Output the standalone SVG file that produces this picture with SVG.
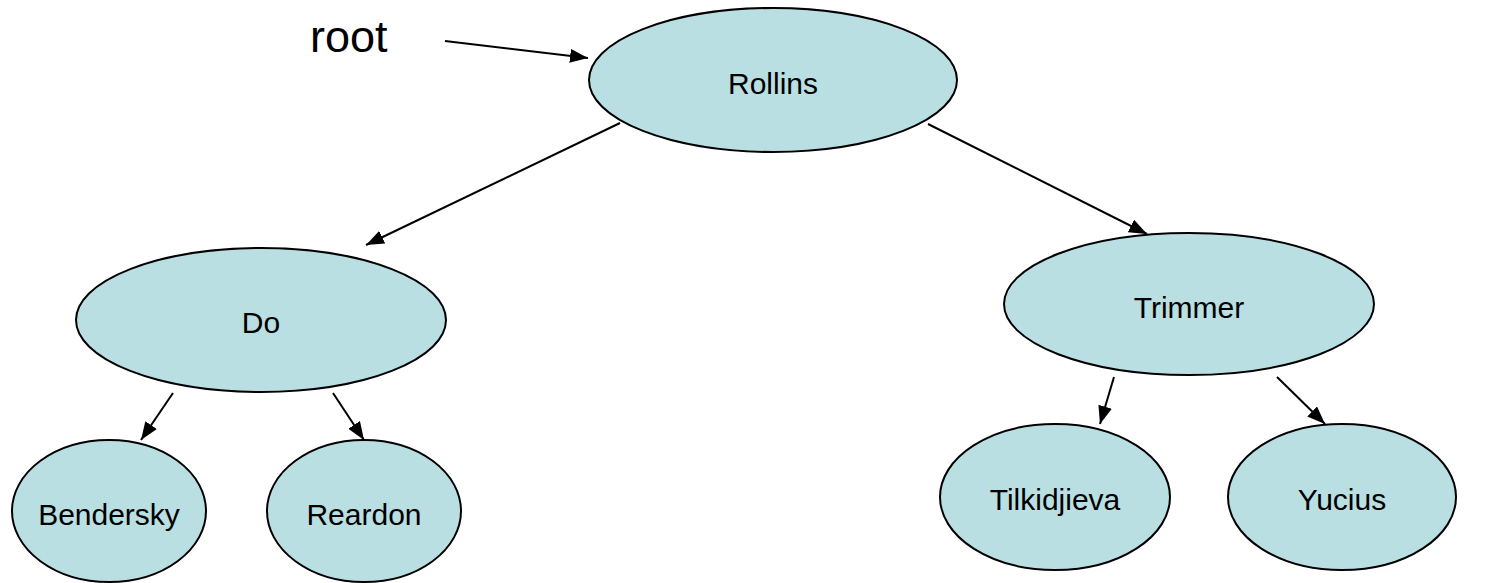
<svg xmlns="http://www.w3.org/2000/svg" width="1485" height="583" viewBox="0 0 1485 583">
  <style>
    .node ellipse { fill: #b9dfe3; stroke: #000; stroke-width: 2; }
    .node text { font-family: "Liberation Sans", Arial, sans-serif; font-size: 30px; fill: #000; text-anchor: middle; }
    .edge { stroke: #000; stroke-width: 2; fill: none; marker-end: url(#arrow); }
    .label { font-family: "Liberation Sans", Arial, sans-serif; font-size: 45px; fill: #000; }
  </style>
  <defs>
    <marker id="arrow" markerUnits="userSpaceOnUse" markerWidth="18" markerHeight="14" viewBox="0 0 18 14" refX="18" refY="7" orient="auto">
      <path d="M0,0 L18,7 L0,14 Z" fill="#000"/>
    </marker>
  </defs>
  <rect width="1485" height="583" fill="#fff"/>

  <text class="label" x="310" y="52">root</text>

  <g id="connectors">
    <line class="edge" x1="445" y1="41" x2="588" y2="58"/>
    <line class="edge" x1="620" y1="123" x2="366" y2="245"/>
    <line class="edge" x1="928" y1="124" x2="1147" y2="234"/>
    <line class="edge" x1="173" y1="393" x2="141" y2="440"/>
    <line class="edge" x1="333" y1="393" x2="364" y2="440"/>
    <line class="edge" x1="1114" y1="377" x2="1100" y2="424"/>
    <line class="edge" x1="1277" y1="377" x2="1325" y2="424"/>
  </g>

  <g id="rollins" class="node">
    <ellipse cx="773" cy="80" rx="184" ry="72"/>
    <text x="773" y="94">Rollins</text>
  </g>
  <g id="do" class="node">
    <ellipse cx="261" cy="320" rx="185" ry="72"/>
    <text x="261" y="333">Do</text>
  </g>
  <g id="trimmer" class="node">
    <ellipse cx="1189" cy="304" rx="185" ry="71"/>
    <text x="1189" y="318">Trimmer</text>
  </g>
  <g id="bendersky" class="node">
    <ellipse cx="109" cy="511" rx="97" ry="71"/>
    <text x="109" y="525">Bendersky</text>
  </g>
  <g id="reardon" class="node">
    <ellipse cx="364" cy="511" rx="97" ry="71"/>
    <text x="364" y="525">Reardon</text>
  </g>
  <g id="tilkidjieva" class="node">
    <ellipse cx="1055" cy="497" rx="115" ry="73"/>
    <text x="1055" y="510">Tilkidjieva</text>
  </g>
  <g id="yucius" class="node">
    <ellipse cx="1342" cy="497" rx="114" ry="73"/>
    <text x="1342" y="510">Yucius</text>
  </g>
</svg>
